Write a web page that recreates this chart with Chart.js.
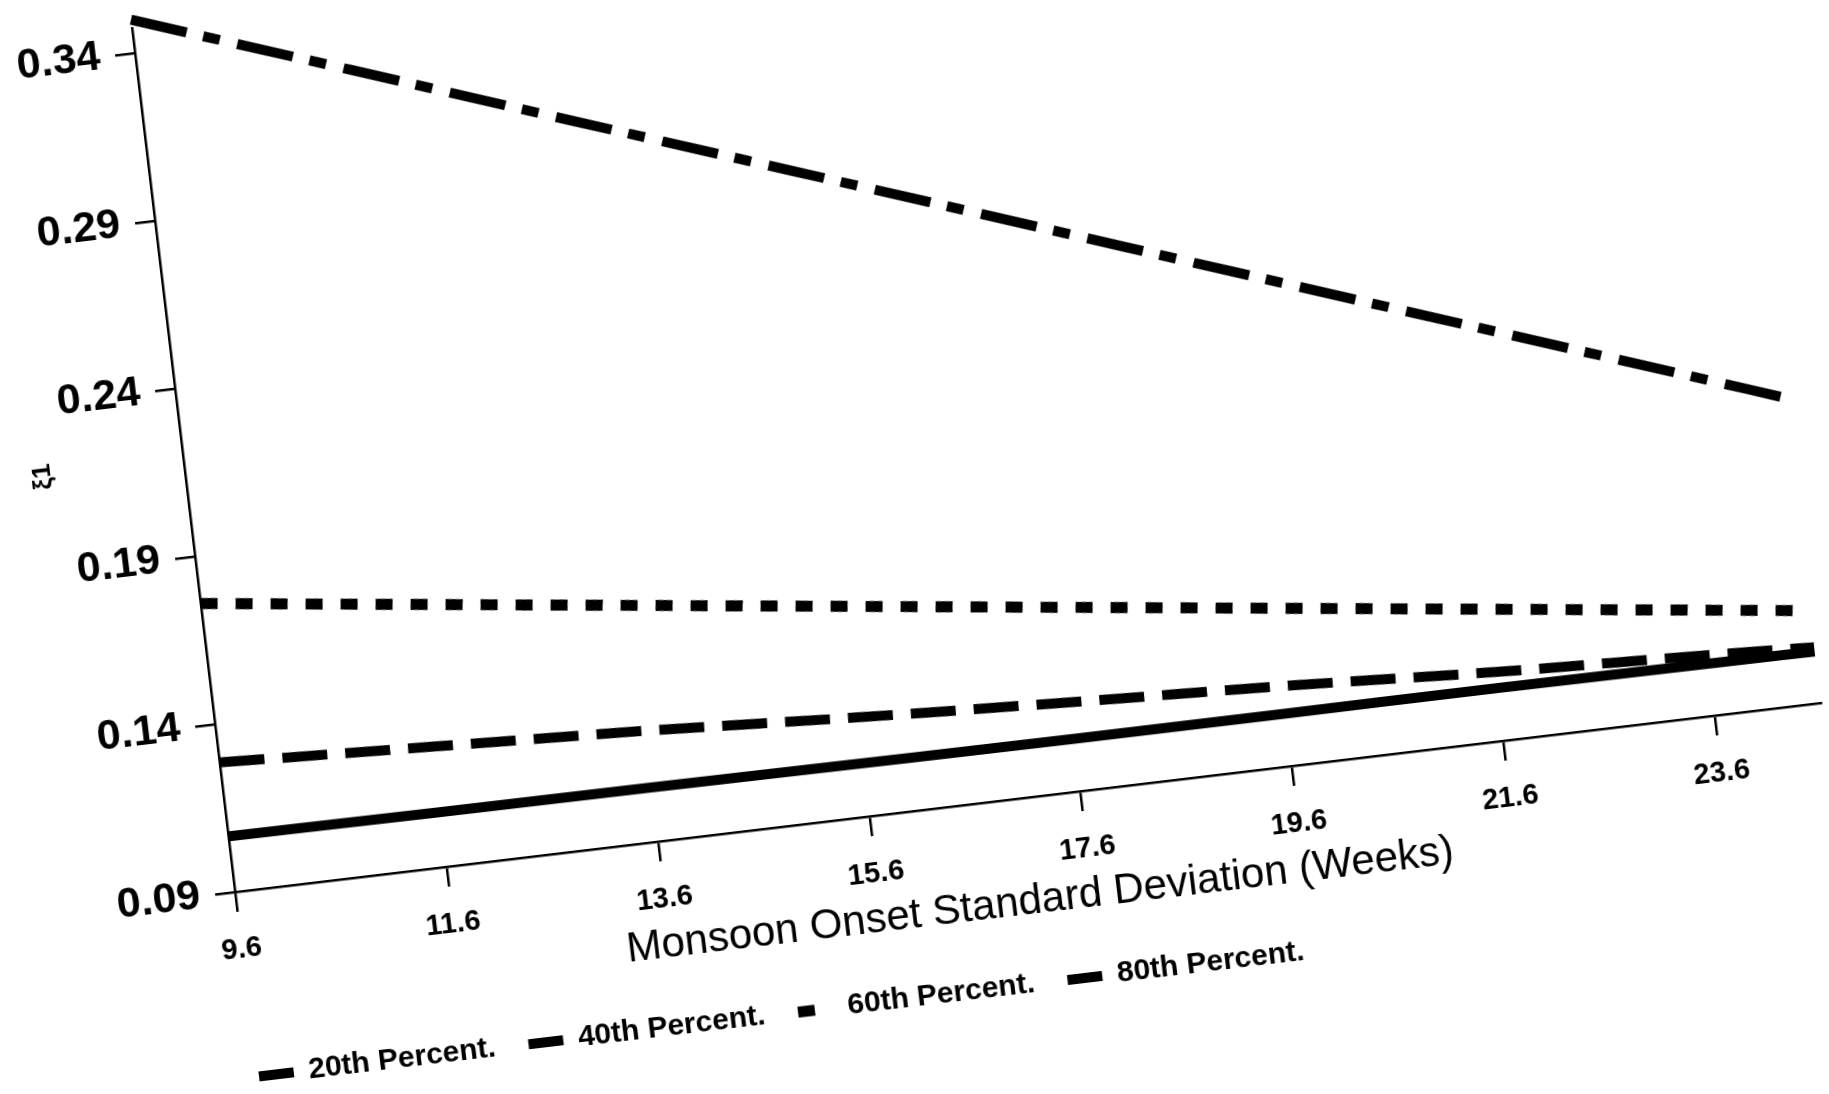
<!DOCTYPE html>
<html>
<head>
<meta charset="utf-8">
<script src="https://cdn.jsdelivr.net/npm/chart.js@4.4.1/dist/chart.umd.min.js"></script>
<style>
  html, body { margin: 0; padding: 0; background: #fff; overflow: hidden; width: 1829px; height: 1094px; }
  /* the scanned page is turned a little counter-clockwise */
  #page { position: absolute; left: 0; top: 0; width: 1900px; height: 1120px; transform-origin: 235px 892px; transform: rotate(-6.8deg); }
  #chart { position: absolute; left: 75px; top: 0; }
</style>
</head>
<body>
<div id="page"><canvas id="chart" width="1780" height="1103"></canvas></div>
<script>
// Monsoon onset standard deviation (weeks)
const sdWeeks = [9.6, 11.6, 13.6, 15.6, 17.6, 19.6, 21.6, 23.6, 24.6];
const xTicks = [9.6, 11.6, 13.6, 15.6, 17.6, 19.6, 21.6, 23.6];
const yTicks = [0.09, 0.14, 0.19, 0.24, 0.29, 0.34];

// xi_1 by percentile
const p20 = [0.1066, 0.1063, 0.1061, 0.1058, 0.1056, 0.1056, 0.1057, 0.1055, 0.1053];
const p40 = [0.1286, 0.1258, 0.1230, 0.1195, 0.1165, 0.1138, 0.1105, 0.1080, 0.1066];
const p60 = [0.1760, 0.1682, 0.1604, 0.1526, 0.1448, 0.1370, 0.1292, 0.1214, 0.1175];
const p80 = [0.3500, 0.3275, 0.3049, 0.2824, 0.2599, 0.2373, 0.2148, 0.1923, 0.1810];

const seriesLabels = ["20th Percent.", "40th Percent.", "60th Percent.", "80th Percent."];

const FONT = "'Liberation Sans', Arial, Helvetica, sans-serif";

function toPoints(values) {
  return sdWeeks.map((x, i) => ({ x: x, y: values[i] }));
}

// legend starts right under the y axis
const shiftLegend = {
  id: "shiftLegend",
  afterLayout(chart) {
    chart.legend.left -= 31;
    chart.legend.right -= 31;
  },
};

// keep tick labels from pushing the plot area in
function noLabelPadding(scale) {
  scale.paddingTop = 0;
  scale.paddingBottom = 0;
  scale.paddingLeft = 0;
  scale.paddingRight = 0;
}

const ctx = document.getElementById("chart").getContext("2d");

new Chart(ctx, {
  type: "line",
  data: {
    datasets: [
      { label: seriesLabels[0], data: toPoints(p20), borderWidth: 10, borderDash: [] },
      { label: seriesLabels[1], data: toPoints(p40), borderWidth: 10, borderDash: [45, 18] },
      { label: seriesLabels[2], data: toPoints(p60), borderWidth: 11, borderDash: [17, 18] },
      { label: seriesLabels[3], data: toPoints(p80), borderWidth: 10, borderDash: [57, 17, 17, 18] },
    ],
  },
  options: {
    responsive: false,
    animation: false,
    layout: { padding: { top: 22, right: 23, left: 0, bottom: 0 } },
    datasets: { line: { clip: false } },
    elements: {
      point: { radius: 0 },
      line: { borderColor: "#000", fill: false, cubicInterpolationMode: "monotone", borderCapStyle: "butt" },
    },
    scales: {
      x: {
        type: "linear",
        min: 9.6,
        max: 24.6,
        afterBuildTicks: (scale) => {
          scale.ticks = xTicks.map((v) => ({ value: v }));
        },
        afterFit: (scale) => {
          scale.height = 138;
          noLabelPadding(scale);
        },
        border: { display: true, color: "#000", width: 2.5 },
        grid: { drawOnChartArea: false, drawTicks: true, tickLength: 20, color: "#000", lineWidth: 2.5 },
        ticks: {
          color: "#000",
          font: { family: FONT, size: 29, weight: "bold" },
          padding: 21,
          maxRotation: 0,
          autoSkip: false,
          callback: (value) => Number(value).toFixed(1),
        },
        title: {
          display: true,
          text: "Monsoon Onset Standard Deviation (Weeks)",
          color: "#000",
          font: { family: FONT, size: 42 },
          padding: { top: 0, bottom: 8 },
        },
      },
      y: {
        min: 0.09,
        max: 0.3475,
        afterBuildTicks: (scale) => {
          scale.ticks = yTicks.map((v) => ({ value: v }));
        },
        afterFit: (scale) => {
          scale.width = 160;
          noLabelPadding(scale);
        },
        border: { display: true, color: "#000", width: 2.5 },
        grid: { drawOnChartArea: false, drawTicks: true, tickLength: 20, color: "#000", lineWidth: 2.5 },
        ticks: {
          color: "#000",
          font: { family: FONT, size: 43, weight: "bold" },
          padding: 15,
          callback: (value) => Number(value).toFixed(2),
        },
        title: {
          display: true,
          text: "ξ1",
          color: "#000",
          font: { family: FONT, size: 26, weight: "bold" },
          padding: { top: 3, bottom: 0 },
        },
      },
    },
    plugins: {
      tooltip: { enabled: false },
      legend: {
        position: "bottom",
        align: "start",
        fullSize: false,
        labels: {
          usePointStyle: true,
          pointStyleWidth: 35,
          boxHeight: 25,
          padding: 33,
          color: "#000",
          font: { family: FONT, size: 30, weight: "bold" },
          generateLabels: (chart) =>
            chart.data.datasets.map((ds, i) => ({
              text: ds.label,
              datasetIndex: i,
              pointStyle: "line",
              strokeStyle: "#000",
              fillStyle: "#000",
              fontColor: "#000",
              lineWidth: ds.borderWidth,
              lineDash: ds.borderDash,
              lineCap: "butt",
              hidden: false,
            })),
        },
      },
    },
  },
  plugins: [shiftLegend],
});
</script>
</body>
</html>
